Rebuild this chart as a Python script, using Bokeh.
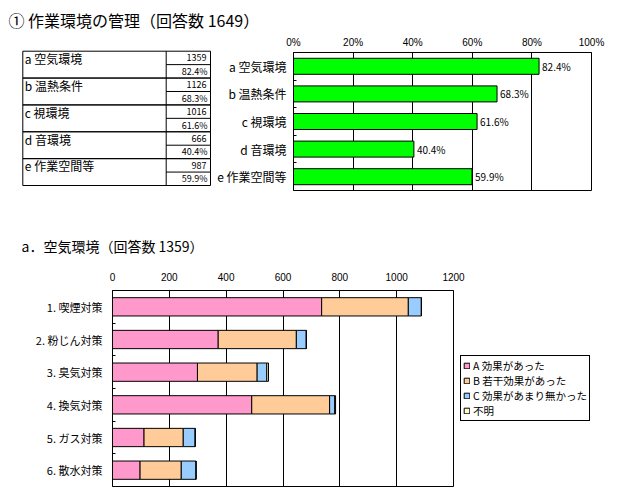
from bokeh.plotting import figure
from bokeh.layouts import column, row
from bokeh.models import (Range1d, FixedTicker, Legend, LegendItem, ColumnDataSource,
                          PrintfTickFormatter)
from bokeh.core.properties import value
from bokeh.embed import file_html
from bokeh.resources import INLINE

FONT = "Noto Sans CJK JP"
NUMFONT = "Liberation Sans"

# ---------------- data ----------------
title1 = "① 作業環境の管理（回答数 1649）"
items1 = ["a 空気環境", "b 温熱条件", "c 視環境", "d 音環境", "e 作業空間等"]
counts1 = [1359, 1126, 1016, 666, 987]
pcts1 = [82.4, 68.3, 61.6, 40.4, 59.9]
x1_ticks = [0, 20, 40, 60, 80, 100]

title2 = "a．空気環境（回答数 1359）"
cats2 = ["1. 喫煙対策", "2. 粉じん対策", "3. 臭気対策", "4. 換気対策", "5. ガス対策", "6. 散水対策"]
series2 = ["A 効果があった", "B 若干効果があった", "C 効果があまり無かった", "不明"]
valA = [736, 372, 299, 490, 111, 97]
valB = [305, 275, 210, 274, 138, 145]
valC = [46, 35, 34, 18, 42, 52]
valU = [0, 0, 6, 3, 0, 0]
x2_ticks = [0, 200, 400, 600, 800, 1000, 1200]
colors2 = ["#FF99CC", "#FFCC99", "#99CCFF", "#FFFFCC"]


def blank(w, h, xr, yr):
    f = figure(width=w, height=h, x_range=xr, y_range=yr, output_backend="svg",
               toolbar_location=None, x_axis_location=None, y_axis_location=None,
               min_border=0, outline_line_color=None, title=None)
    f.grid.grid_line_color = None
    return f


def cat_axis(ax, positions, labels, standoff, size):
    ax.ticker = FixedTicker(ticks=positions,
                            minor_ticks=[k + 0.5 for k in range(1, len(positions))])
    ax.major_label_overrides = {int(pv): lb for pv, lb in zip(positions, labels)}
    ax.major_tick_in = 0
    ax.major_tick_out = 0
    ax.minor_tick_in = 3
    ax.minor_tick_out = 0
    ax.minor_tick_line_color = "black"
    ax.axis_line_color = "black"
    ax.major_label_standoff = standoff
    ax.major_label_text_font = FONT
    ax.major_label_text_font_size = size
    ax.major_label_text_color = "black"


def val_axis(ax, ticks, standoff):
    ax.ticker = FixedTicker(ticks=ticks)
    ax.major_tick_in = 0
    ax.major_tick_out = 0
    ax.minor_tick_line_color = None
    ax.axis_line_color = "black"
    ax.major_label_standoff = standoff
    ax.major_label_text_font = NUMFONT
    ax.major_label_text_font_size = "10px"
    ax.major_label_text_color = "black"


# ---------------- title 1 ----------------
t1 = blank(628, 31, Range1d(0, 628), Range1d(31, 0))
t1.text(x=[8], y=[19.5], text=[title1], text_font=value(FONT), text_font_size="16px",
        text_baseline="middle", text_color="black")

# ---------------- table ----------------
n1 = len(items1)
tab = blank(214, 164, Range1d(0, 214), Range1d(-0.372, n1 + 0.733))
L, D, R = 22.3, 165.7, 210
tops = [n1 - i for i in range(n1)]
bots = [n1 - i - 1 for i in range(n1)]
mids = [n1 - i - 0.5 for i in range(n1)]
tab.quad(left=L, right=R, top=tops, bottom=bots, fill_color=None, line_color="black", line_width=1)
tab.segment(x0=[D], x1=[D], y0=[0], y1=[n1], line_color="black", line_width=1)
tab.segment(x0=D, x1=R, y0=mids, y1=mids, line_color="black", line_width=1)
tab.text(x=L + 2, y=[t - 0.27 for t in tops], text=items1, text_font=value(FONT),
         text_font_size="12px", text_baseline="middle", text_color="black")
tab.text(x=R - 4, y=[t - 0.25 for t in tops], text=[str(c) for c in counts1],
         text_font=value(FONT), text_font_size="9px", text_baseline="middle",
         text_align="right", text_color="black")
tab.text(x=R - 3, y=[t - 0.75 for t in tops], text=[f"{p:.1f}%" for p in pcts1],
         text_font=value(FONT), text_font_size="9px", text_baseline="middle",
         text_align="right", text_color="black")

# ---------------- top bar chart ----------------
y1 = [n1 - i for i in range(n1)]
p1 = figure(frame_width=298, frame_height=138, x_range=Range1d(0, 100),
            y_range=Range1d(0.5, n1 + 0.5), x_axis_location="above",
            min_border_left=79, min_border_top=21, min_border_bottom=5, min_border_right=25,
            output_backend="svg", toolbar_location=None, title=None)
p1.hbar(y=y1, left=0, right=pcts1, height=0.58, fill_color="#00FF00",
        line_color="black", line_width=1)
p1.text(x=pcts1, y=y1, text=[f"{v:.1f}%" for v in pcts1], x_offset=3,
        text_baseline="middle", text_font=value(FONT), text_font_size="10px",
        text_color="black")
val_axis(p1.xaxis[0], x1_ticks, 5)
p1.xaxis.formatter = PrintfTickFormatter(format="%d%%")
cat_axis(p1.yaxis[0], y1, items1, 7, "12px")
p1.xgrid.grid_line_color = "black"
p1.xgrid.grid_line_alpha = 1
p1.ygrid.grid_line_color = None
p1.outline_line_color = "black"
p1.outline_line_alpha = 1

# ---------------- title 2 ----------------
t2 = blank(628, 64, Range1d(0, 628), Range1d(64, 0))
t2.text(x=[21], y=[50.5], text=[title2], text_font=value(FONT), text_font_size="14px",
        text_baseline="middle", text_color="black")

# ---------------- bottom stacked chart ----------------
n2 = len(cats2)
y2 = [n2 - i for i in range(n2)]
p2 = figure(frame_width=341, frame_height=196, x_range=Range1d(0, 1200),
            y_range=Range1d(0.5, n2 + 0.5), x_axis_location="above",
            min_border_left=112, min_border_top=31, min_border_bottom=4, min_border_right=160,
            output_backend="svg", toolbar_location=None, title=None)
src = ColumnDataSource(dict(y=y2, A=valA, B=valB, C=valC, U=valU))
rs = p2.hbar_stack(["A", "B", "C", "U"], y="y", height=0.56, fill_color=colors2,
                   line_color="black", line_width=1, source=src)
val_axis(p2.xaxis[0], x2_ticks, 10)
cat_axis(p2.yaxis[0], y2, cats2, 10, "11px")
p2.xgrid.grid_line_color = "black"
p2.xgrid.grid_line_alpha = 1
p2.ygrid.grid_line_color = None
p2.outline_line_color = "black"
p2.outline_line_alpha = 1

legend = Legend(items=[LegendItem(label=s, renderers=[r]) for s, r in zip(series2, rs)],
                location="center_left", orientation="vertical")
legend.margin = 7
legend.padding = 2
legend.spacing = 0
legend.label_height = 15
legend.glyph_height = 7
legend.glyph_width = 7
legend.label_standoff = 3
legend.label_text_font = FONT
legend.label_text_font_size = "10.5px"
legend.label_text_color = "black"
legend.border_line_color = "black"
legend.border_line_alpha = 1
legend.background_fill_color = "white"
legend.background_fill_alpha = 1
p2.add_layout(legend, "right")

layout = column(row(t1), row(column(tab), column(p1)), row(t2), row(p2))
open("out.html", "w").write(file_html(layout, INLINE))
